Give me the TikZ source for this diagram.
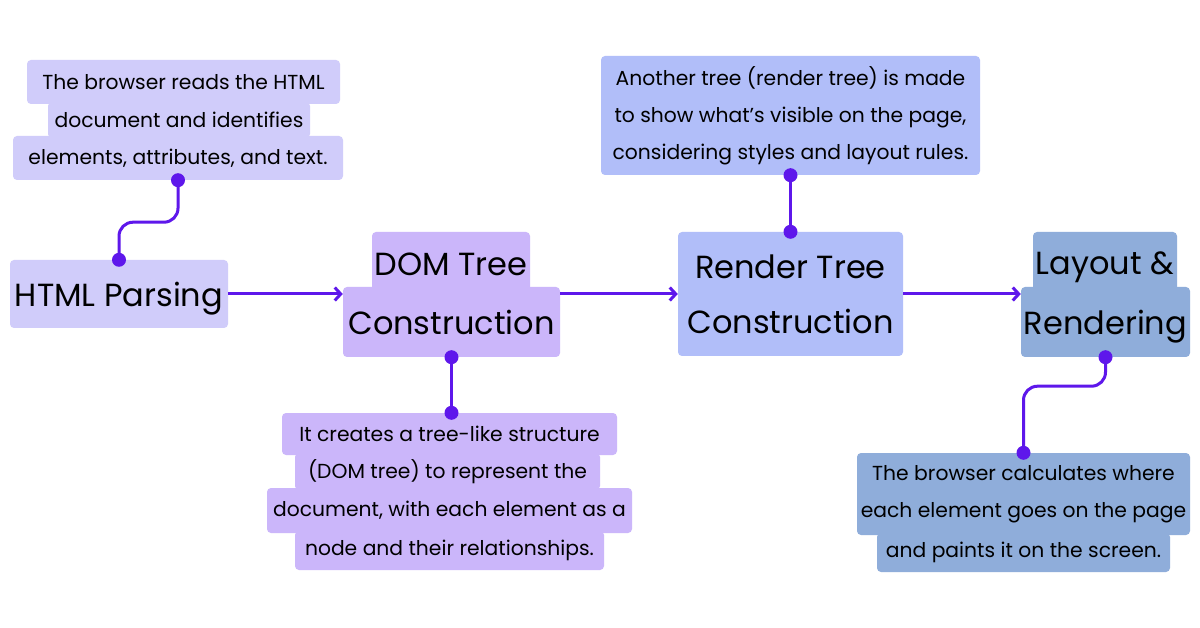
\documentclass[tikz,border=0pt]{standalone}
\usepackage{fontspec}
\setmainfont{Poppins}
\usetikzlibrary{arrows.meta,calc}
\definecolor{cA}{HTML}{D0CCFA}
\definecolor{cB}{HTML}{CBB6FA}
\definecolor{cC}{HTML}{B1BEF9}
\definecolor{cD}{HTML}{8FADDA}
\definecolor{link}{HTML}{5E17EB}
\begin{document}
\begin{tikzpicture}[x=1pt,y=-1pt,
  hl/.style={rounded corners=4pt, inner sep=0pt, anchor=center, align=center, text=black},
  body/.style={hl, font=\fontsize{20.3}{37}\selectfont},
  title/.style={hl, font=\fontsize{32}{55}\selectfont},
  conn/.style={draw=link, line width=3pt},
  arr/.style={conn, -{Straight Barb[length=6pt,width=13pt]}},
  dotc/.style={fill=link}
]
\useasboundingbox[fill=white] (0,0) rectangle (1200,628);

% HTML parsing description
\node[body, fill=cA, minimum width=313pt, minimum height=44pt] (a1) at (183.5,82) {The browser reads the HTML};
\node[body, fill=cA, minimum width=262pt, minimum height=36pt] (a2) at (179,120) {document and identifies};
\node[body, fill=cA, minimum width=330pt, minimum height=44pt] (a3) at (178,158) {elements, attributes, and text.};
\node[title, fill=cA, minimum width=218pt, minimum height=68pt, text depth=0pt] (hp) at (119,294) {HTML Parsing};

% DOM
\node[title, fill=cB, minimum width=158pt, minimum height=64pt] (b1) at (451,264) {DOM Tree};
\node[title, fill=cB, minimum width=217pt, minimum height=70pt] (b2) at (451.5,322) {Construction};
\node[body, fill=cB, minimum width=335pt, minimum height=42pt] (c1) at (449.5,434) {It creates a tree-like structure};
\node[body, fill=cB, minimum width=305pt, minimum height=37pt] (c2) at (447.5,471.5) {(DOM tree) to represent the};
\node[body, fill=cB, minimum width=365pt, minimum height=45pt] (c3) at (449.5,510.5) {document, with each element as a};
\node[body, fill=cB, minimum width=309pt, minimum height=39pt] (c4) at (449.5,550.5) {node and their relationships.};

% Render tree
\node[title, fill=cC, minimum width=225pt, minimum height=124pt] (rt) at (790.5,294) {Render Tree\\Construction};
\node[body, fill=cC, minimum width=379pt, minimum height=119pt] (rd) at (790.5,115.5) {Another tree (render tree) is made\\to show what\symbol{39}s visible on the page,\\considering styles and layout rules.};

% Layout
\node[title, fill=cD, minimum width=144pt, minimum height=62pt, text depth=0pt] (d1) at (1105,263) {Layout \&};
\node[title, fill=cD, minimum width=169pt, minimum height=70pt, text depth=0pt] (d2) at (1105.5,322) {Rendering};
\node[body, fill=cD, minimum width=333pt, minimum height=82pt] (e1) at (1023.5,494) {The browser calculates where\\each element goes on the page};
\node[body, fill=cD, minimum width=293pt, minimum height=39pt] (e3) at (1023.5,552.5) {and paints it on the screen.};

% connectors
\draw[conn, rounded corners=14pt] (a3.south) -- ++(0,42) -| (hp.north);
\fill[dotc] (a3.south) circle[radius=7pt];
\fill[dotc] (hp.north) circle[radius=7pt];

\draw[arr] (hp.east) -- (hp.east -| b2.west);
\draw[arr] (hp.east -| b2.east) -- (hp.east -| rt.west);
\draw[arr] (hp.east -| rt.east) -- (hp.east -| d2.west);

\draw[conn] (b2.south) -- (b2.south |- c1.north);
\fill[dotc] (b2.south) circle[radius=7pt];
\fill[dotc] (b2.south |- c1.north) circle[radius=7pt];

\draw[conn] (rd.south) -- (rt.north);
\fill[dotc] (rd.south) circle[radius=7pt];
\fill[dotc] (rt.north) circle[radius=7pt];

\draw[conn, rounded corners=14pt] (d2.south) -- ++(0,29) -| (e1.north);
\fill[dotc] (d2.south) circle[radius=7pt];
\fill[dotc] (e1.north) circle[radius=7pt];
\end{tikzpicture}
\end{document}
